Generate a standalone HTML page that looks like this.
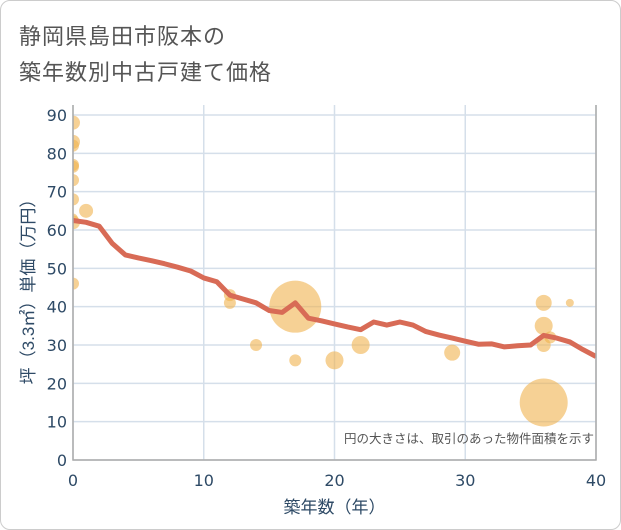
<!DOCTYPE html>
<html><head><meta charset="utf-8"><style>
body{margin:0;background:#fff;font-family:"Liberation Sans","Noto Sans CJK JP",sans-serif}
#wrap{position:relative;width:619px;height:528px;border:1px solid #ccc;border-radius:10px;overflow:hidden}
.title{position:absolute;left:18px;font-size:22px;color:#555;letter-spacing:1px}
</style></head><body>
<div id="wrap">
<div class="title" style="top:18px">静岡県島田市阪本の</div>
<div class="title" style="top:54px">築年数別中古戸建て価格</div>
<svg id="chart" width="621" height="530" style="position:absolute;left:-1px;top:-1px">
<defs><clipPath id="plotclip"><rect x="73" y="100" width="523" height="360"/></clipPath></defs>
</svg>
</div>
<script>
const xTicks=[0,10,20,30,40];
const yTicks=[0,10,20,30,40,50,60,70,80,90];
const bubbleX=[0,0,0,0,0,0,0,0,0,0,1,12,12,14,17,17,20,22,29,36,36,36,36.5,38,36];
const bubbleY=[88,83,82,77,76.5,73,68,62,63,46,65,43,41,30,40,26,26,30,28,41,35,30,32,41,15];
const bubbleR=[7,7,6,6,6,6,6,7,5,6,7,6,6,6,26,6,9,9,8,8,9,7,6,4,24];
const lineX=[0,1,2,3,4,5,6,7,8,9,10,11,12,13,14,15,16,17,18,19,20,21,22,23,24,25,26,27,28,29,30,31,32,33,34,35,36,37,38,39,40];
const lineY=[62.5,62,61,56.5,53.5,52.7,52,51.2,50.3,49.3,47.5,46.5,43,42,41,39,38.5,41,37,36.3,35.5,34.7,34,36,35.2,36,35.2,33.5,32.6,31.8,31,30.2,30.3,29.5,29.8,30,32.5,31.8,30.8,28.8,27];
const X0=73,X1=596,Y0=460,Y1=115;
const sx=v=>X0+(X1-X0)*v/40;
const sy=v=>Y0-(Y0-Y1)*v/90;
const svg=document.getElementById('chart');
const NS='http://www.w3.org/2000/svg';
function mk(t,a,par){const e=document.createElementNS(NS,t);for(const k in a)e.setAttribute(k,a[k]);(par||svg).appendChild(e);return e;}
const TF='"DejaVu Sans",sans-serif';
for(const t of yTicks){
 const l=mk('line',{x1:X0,x2:X1,y1:sy(t),y2:sy(t),stroke:'#d5dfea','stroke-width':1.5});
 
 
 const tx=mk('text',{x:X0-6,y:sy(t)+6,'text-anchor':'end','font-size':16,'font-family':TF,fill:'#2e4a66'});
 tx.textContent=t;
 
 
}
for(const t of xTicks){
 const l=mk('line',{x1:sx(t),x2:sx(t),y1:Y1-10,y2:Y0,stroke:'#d5dfea','stroke-width':1.5});
 
 
 const tx=mk('text',{x:sx(t),y:Y0+26,'text-anchor':'middle','font-size':16,'font-family':TF,fill:'#2e4a66'});
 tx.textContent=t;
 
 
}
const g=mk('g',{'clip-path':'url(#plotclip)'});


for(let i=0;i<bubbleX.length;i++){
 const c=mk('circle',{cx:sx(bubbleX[i]),cy:sy(bubbleY[i]),r:bubbleR[i],fill:'#f0b34f','fill-opacity':0.6},g);
 
 
}
const p=mk('polyline',{points:lineX.map((x,i)=>sx(x)+','+sy(lineY[i])).join(' '),fill:'none',stroke:'#d86b56','stroke-width':5,'stroke-linejoin':'round'},g);


const ax=mk('path',{d:`M${X0} ${Y1-10}V${Y0}H${X1}V${Y1-10}`,fill:'none',stroke:'#aaa','stroke-width':1.5});


const n=mk('text',{x:594,y:443,'text-anchor':'end','font-size':12.5,fill:'#555'});
n.textContent='円の大きさは、取引のあった物件面積を示す';


const xt=mk('text',{x:(X0+X1)/2,y:513,'text-anchor':'middle','font-size':17,fill:'#2e4a66'});
xt.textContent='築年数（年）';


const yt=mk('text',{x:0,y:0,'text-anchor':'middle','font-size':17,fill:'#2e4a66',transform:`translate(34,${(Y0+Y1)/2}) rotate(-90)`});
yt.textContent='坪（3.3㎡）単価（万円）';


</script>
</body></html>
